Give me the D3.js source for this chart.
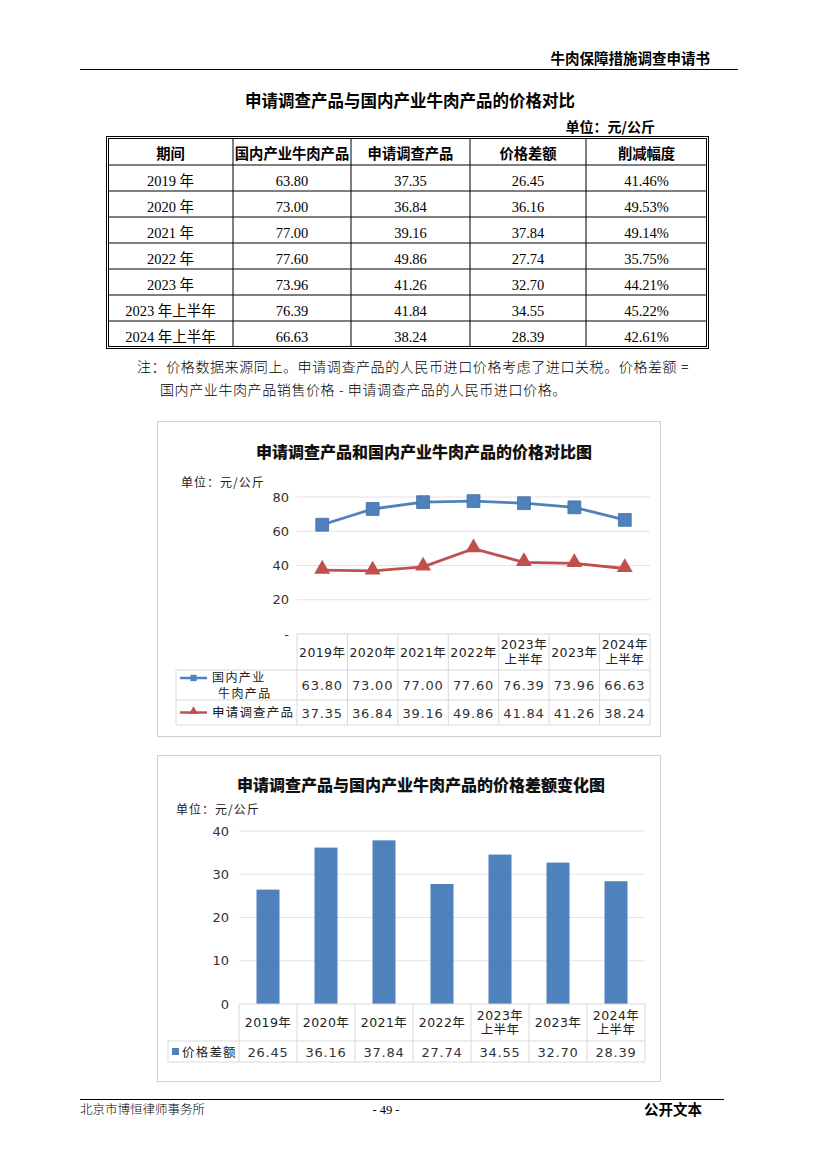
<!DOCTYPE html>
<html>
<head>
<meta charset="utf-8">
<script src="https://cdn.jsdelivr.net/npm/d3@7"></script>
<style>
  body { margin: 0; background: #fff; }
  svg { display: block; }
</style>
</head>
<body>
<svg id="page" width="827" height="1170"></svg>
<script>
// table data
const periods = ["2019 年", "2020 年", "2021 年", "2022 年", "2023 年", "2023 年上半年", "2024 年上半年"];
const domestic = [63.80, 73.00, 77.00, 77.60, 73.96, 76.39, 66.63];
const imported = [37.35, 36.84, 39.16, 49.86, 41.26, 41.84, 38.24];
const gap = [26.45, 36.16, 37.84, 27.74, 32.70, 34.55, 28.39];
const cut = ["41.46%", "49.53%", "49.14%", "35.75%", "44.21%", "45.22%", "42.61%"];
const headers = ["期间", "国内产业牛肉产品", "申请调查产品", "价格差额", "削减幅度"];

// chart data (the charts put 2023上半年 before 2023)
const chartCats = ["2019年", "2020年", "2021年", "2022年", "2023年\n上半年", "2023年", "2024年\n上半年"];
const lineDomestic = [63.80, 73.00, 77.00, 77.60, 76.39, 73.96, 66.63];
const lineImported = [37.35, 36.84, 39.16, 49.86, 41.84, 41.26, 38.24];
const barGap = [26.45, 36.16, 37.84, 27.74, 34.55, 32.70, 28.39];
const lineTicks = [20, 40, 60, 80];
const barTicks = [0, 10, 20, 30, 40];

const CJK = "'Noto Sans CJK SC', sans-serif";
const SERIF = "'Liberation Serif', 'Noto Sans CJK SC', serif";
const XL = "'DejaVu Sans', 'Noto Sans CJK SC', sans-serif";
const blue = "#4f81bd", red = "#c0504d";

const svg = d3.select("#page");

// page header
svg.append("text").attr("x", 710).attr("y", 64).attr("text-anchor", "end")
  .attr("font-family", CJK).attr("font-weight", "bold").attr("font-size", 14.5)
  .text("牛肉保障措施调查申请书");
svg.append("line").attr("x1", 80).attr("x2", 738).attr("y1", 69.5).attr("y2", 69.5)
  .attr("stroke", "#000").attr("stroke-width", 1.2);

svg.append("text").attr("x", 410).attr("y", 107).attr("text-anchor", "middle")
  .attr("font-family", CJK).attr("font-weight", "bold").attr("font-size", 16.5)
  .text("申请调查产品与国内产业牛肉产品的价格对比");
svg.append("text").attr("x", 655).attr("y", 132).attr("text-anchor", "end")
  .attr("font-family", CJK).attr("font-weight", "bold").attr("font-size", 14)
  .text("单位：元/公斤");

// main table
const colEdges = [108, 233, 351, 470, 586, 707];
const rowTop = 138, headH = 27, rowH = 26;
const tbl = svg.append("g");
const rows = periods.map((p, i) => [p, domestic[i].toFixed(2), imported[i].toFixed(2), gap[i].toFixed(2), cut[i]]);
const tblBottom = rowTop + headH + rowH * rows.length;

tbl.selectAll("text.h").data(headers).join("text")
  .attr("x", (d, i) => (colEdges[i] + colEdges[i + 1]) / 2)
  .attr("y", rowTop + headH / 2 + 7)
  .attr("text-anchor", "middle").attr("font-family", CJK).attr("font-weight", "bold").attr("font-size", 14.3)
  .text(d => d);

rows.forEach((r, ri) => {
  tbl.selectAll(null).data(r).join("text")
    .attr("x", (d, i) => (colEdges[i] + colEdges[i + 1]) / 2)
    .attr("y", rowTop + headH + rowH * ri + rowH / 2 + 8)
    .attr("text-anchor", "middle").attr("font-family", SERIF).attr("font-size", 14.5)
    .text(d => d);
});
// inner grid
for (let i = 1; i < colEdges.length - 1; i++) {
  tbl.append("line").attr("x1", colEdges[i]).attr("x2", colEdges[i]).attr("y1", rowTop).attr("y2", tblBottom)
    .attr("stroke", "#000").attr("stroke-width", 1);
}
for (let i = 0; i < rows.length; i++) {
  const y = rowTop + headH + rowH * i;
  tbl.append("line").attr("x1", colEdges[0]).attr("x2", colEdges[5]).attr("y1", y).attr("y2", y)
    .attr("stroke", "#000").attr("stroke-width", 1);
}
// double outer border
tbl.append("rect").attr("x", colEdges[0] - 1.5).attr("y", rowTop - 1.5)
  .attr("width", colEdges[5] - colEdges[0] + 3).attr("height", tblBottom - rowTop + 3)
  .attr("fill", "none").attr("stroke", "#000").attr("stroke-width", 1);
tbl.append("rect").attr("x", colEdges[0] + 0.5).attr("y", rowTop + 0.5)
  .attr("width", colEdges[5] - colEdges[0] - 1).attr("height", tblBottom - rowTop - 1)
  .attr("fill", "none").attr("stroke", "#000").attr("stroke-width", 1);

// note
svg.append("text").attr("x", 137).attr("y", 372).attr("font-family", CJK).attr("font-weight", 300).attr("font-size", 14)
  .attr("letter-spacing", 0.6)
  .text("注：价格数据来源同上。申请调查产品的人民币进口价格考虑了进口关税。价格差额 =");
svg.append("text").attr("x", 160).attr("y", 395).attr("font-family", CJK).attr("font-weight", 300).attr("font-size", 14)
  .attr("letter-spacing", 0.6)
  .text("国内产业牛肉产品销售价格 - 申请调查产品的人民币进口价格。");

// helper for excel-like data tables under the charts
function catRow(g, x, cats, top, h) {
  x.domain().forEach((c, i) => {
    const lines = cats[i].split("\n");
    const cx = x(c) + x.bandwidth() / 2;
    const t = g.append("text").attr("text-anchor", "middle").attr("font-family", XL).attr("font-size", 12.5)
      .attr("letter-spacing", 0.4).attr("fill", "#222");
    lines.forEach((l, k) => {
      t.append("tspan").attr("x", cx)
        .attr("y", top + h / 2 + 4.5 + (k - (lines.length - 1) / 2) * 14.5)
        .text(l);
    });
  });
}

// ---------- chart 1: line chart ----------
const c1 = svg.append("g");
c1.append("rect").attr("x", 157.5).attr("y", 421.5).attr("width", 503).attr("height", 315)
  .attr("fill", "#fff").attr("stroke", "#d0d0d0");
c1.append("text").attr("x", 424).attr("y", 458).attr("text-anchor", "middle")
  .attr("font-family", CJK).attr("font-weight", 900).attr("font-size", 16).attr("fill", "#111")
  .text("申请调查产品和国内产业牛肉产品的价格对比图");
c1.append("text").attr("x", 181).attr("y", 487).attr("font-family", CJK).attr("font-size", 12).attr("fill", "#222")
  .attr("letter-spacing", 1).text("单位：元/公斤");

const x1 = d3.scaleBand().domain(d3.range(chartCats.length)).range([297, 650]);
const y1 = d3.scaleLinear().domain([0, 80]).range([634, 497]);

c1.append("g").selectAll("line").data(lineTicks).join("line")
  .attr("x1", 297).attr("x2", 650).attr("y1", d => y1(d)).attr("y2", d => y1(d))
  .attr("stroke", "#e3e3e3");
c1.append("g").attr("transform", "translate(297,0)")
  .call(d3.axisLeft(y1).tickValues([0].concat(lineTicks)).tickSize(0).tickPadding(8)
    .tickFormat(d => d === 0 ? "-" : d))
  .call(g => g.select(".domain").remove())
  .call(g => g.selectAll("text").attr("font-family", XL).attr("font-size", 13).attr("fill", "#333"));

const lineGen = d3.line().x((d, i) => x1(i) + x1.bandwidth() / 2).y(d => y1(d));
c1.append("path").datum(lineDomestic).attr("d", lineGen).attr("fill", "none").attr("stroke", blue).attr("stroke-width", 2.8);
c1.append("path").datum(lineImported).attr("d", lineGen).attr("fill", "none").attr("stroke", red).attr("stroke-width", 2.8);
c1.append("g").selectAll("path").data(lineDomestic).join("path")
  .attr("d", d3.symbol(d3.symbolSquare, 165))
  .attr("transform", (d, i) => `translate(${x1(i) + x1.bandwidth() / 2},${y1(d)})`)
  .attr("fill", blue).attr("stroke", "#3f6fa8").attr("stroke-width", 0.8);
c1.append("g").selectAll("path").data(lineImported).join("path")
  .attr("d", d3.symbol(d3.symbolTriangle, 110))
  .attr("transform", (d, i) => `translate(${x1(i) + x1.bandwidth() / 2},${y1(d) - 1})`)
  .attr("fill", red);

// data table chart 1
const t1 = c1.append("g");
const t1Top = 634, t1Cat = 36, t1R1 = 30, t1R2 = 25, t1Left = 176;
const t1Bottom = t1Top + t1Cat + t1R1 + t1R2;
const gridC = "#d9d9d9";
x1.domain().concat([chartCats.length]).forEach(i => {
  const xx = i === chartCats.length ? 650 : x1(i);
  t1.append("line").attr("x1", xx).attr("x2", xx).attr("y1", t1Top).attr("y2", t1Bottom).attr("stroke", gridC);
});
[t1Top, t1Top + t1Cat].forEach(y => t1.append("line").attr("x1", y === t1Top ? 297 : t1Left).attr("x2", 650).attr("y1", y).attr("y2", y).attr("stroke", gridC));
[t1Top + t1Cat + t1R1, t1Bottom].forEach(y => t1.append("line").attr("x1", t1Left).attr("x2", 650).attr("y1", y).attr("y2", y).attr("stroke", gridC));
t1.append("line").attr("x1", t1Left).attr("x2", t1Left).attr("y1", t1Top + t1Cat).attr("y2", t1Bottom).attr("stroke", gridC);
catRow(t1, x1, chartCats, t1Top, t1Cat);
[[lineDomestic, t1Top + t1Cat, t1R1], [lineImported, t1Top + t1Cat + t1R1, t1R2]].forEach(([vals, top, h]) => {
  t1.selectAll(null).data(vals).join("text")
    .attr("x", (d, i) => x1(i) + x1.bandwidth() / 2).attr("y", top + h / 2 + 5)
    .attr("text-anchor", "middle").attr("font-family", XL).attr("font-size", 13).attr("fill", "#333")
    .attr("letter-spacing", 0.8)
    .text(d => d.toFixed(2));
});
// legend keys
const ly1 = t1Top + t1Cat + 8, ly2 = t1Top + t1Cat + t1R1 + t1R2 / 2;
t1.append("line").attr("x1", 180).attr("x2", 207).attr("y1", ly1).attr("y2", ly1).attr("stroke", blue).attr("stroke-width", 2.5);
t1.append("path").attr("d", d3.symbol(d3.symbolSquare, 40)).attr("transform", `translate(193.5,${ly1})`).attr("fill", blue);
t1.append("text").attr("x", 212).attr("y", ly1 + 4).attr("font-family", CJK).attr("font-size", 12).attr("fill", "#222")
  .attr("letter-spacing", 1.4).text("国内产业");
t1.append("text").attr("x", 218).attr("y", ly1 + 19.5).attr("font-family", CJK).attr("font-size", 12).attr("fill", "#222")
  .attr("letter-spacing", 1.4).text("牛肉产品");
t1.append("line").attr("x1", 180).attr("x2", 207).attr("y1", ly2).attr("y2", ly2).attr("stroke", red).attr("stroke-width", 2.5);
t1.append("path").attr("d", d3.symbol(d3.symbolTriangle, 35)).attr("transform", `translate(193.5,${ly2 - 1})`).attr("fill", red);
t1.append("text").attr("x", 212).attr("y", ly2 + 4.5).attr("font-family", CJK).attr("font-size", 12.5).attr("fill", "#222")
  .attr("letter-spacing", 1.2).text("申请调查产品");

// ---------- chart 2: bar chart ----------
const c2 = svg.append("g");
c2.append("rect").attr("x", 157.5).attr("y", 755.5).attr("width", 503).attr("height", 326)
  .attr("fill", "#fff").attr("stroke", "#d0d0d0");
c2.append("text").attr("x", 421).attr("y", 791).attr("text-anchor", "middle")
  .attr("font-family", CJK).attr("font-weight", 900).attr("font-size", 16).attr("fill", "#111")
  .text("申请调查产品与国内产业牛肉产品的价格差额变化图");
c2.append("text").attr("x", 176).attr("y", 814).attr("font-family", CJK).attr("font-size", 12).attr("fill", "#222")
  .attr("letter-spacing", 1).text("单位：元/公斤");

const x2 = d3.scaleBand().domain(d3.range(chartCats.length)).range([239, 645]);
const y2 = d3.scaleLinear().domain([0, 40]).range([1004, 831]);

c2.append("g").selectAll("line").data(barTicks.slice(1)).join("line")
  .attr("x1", 239).attr("x2", 645).attr("y1", d => y2(d)).attr("y2", d => y2(d))
  .attr("stroke", "#e3e3e3");
c2.append("g").attr("transform", "translate(239,0)")
  .call(d3.axisLeft(y2).tickValues(barTicks).tickSize(0).tickPadding(10))
  .call(g => g.select(".domain").remove())
  .call(g => g.selectAll("text").attr("font-family", XL).attr("font-size", 13).attr("fill", "#333"));

const barW = 23;
c2.append("g").selectAll("rect").data(barGap).join("rect")
  .attr("x", (d, i) => x2(i) + x2.bandwidth() / 2 - barW / 2)
  .attr("y", d => y2(d)).attr("width", barW).attr("height", d => y2(0) - y2(d))
  .attr("fill", blue);

const t2 = c2.append("g");
const t2Top = 1004, t2Cat = 37, t2R1 = 21, t2Left = 168;
const t2Bottom = t2Top + t2Cat + t2R1;
x2.domain().concat([chartCats.length]).forEach(i => {
  const xx = i === chartCats.length ? 645 : x2(i);
  t2.append("line").attr("x1", xx).attr("x2", xx).attr("y1", t2Top).attr("y2", t2Bottom).attr("stroke", gridC);
});
t2.append("line").attr("x1", 239).attr("x2", 645).attr("y1", t2Top).attr("y2", t2Top).attr("stroke", gridC);
[t2Top + t2Cat, t2Bottom].forEach(y => t2.append("line").attr("x1", t2Left).attr("x2", 645).attr("y1", y).attr("y2", y).attr("stroke", gridC));
t2.append("line").attr("x1", t2Left).attr("x2", t2Left).attr("y1", t2Top + t2Cat).attr("y2", t2Bottom).attr("stroke", gridC);
catRow(t2, x2, chartCats, t2Top, t2Cat);
t2.selectAll(null).data(barGap).join("text")
  .attr("x", (d, i) => x2(i) + x2.bandwidth() / 2).attr("y", t2Top + t2Cat + t2R1 / 2 + 5)
  .attr("text-anchor", "middle").attr("font-family", XL).attr("font-size", 13).attr("fill", "#333")
  .attr("letter-spacing", 0.8)
  .text(d => d.toFixed(2));
t2.append("rect").attr("x", 172).attr("y", t2Top + t2Cat + t2R1 / 2 - 3.5).attr("width", 7).attr("height", 7).attr("fill", blue);
t2.append("text").attr("x", 182).attr("y", t2Top + t2Cat + t2R1 / 2 + 5).attr("font-family", CJK).attr("font-size", 12.5).attr("fill", "#222")
  .attr("letter-spacing", 1.2).text("价格差额");

// footer
svg.append("line").attr("x1", 80).attr("x2", 724).attr("y1", 1099.5).attr("y2", 1099.5).attr("stroke", "#000").attr("stroke-width", 1);
svg.append("text").attr("x", 80).attr("y", 1114).attr("font-family", CJK).attr("font-weight", 300).attr("font-size", 12.5).text("北京市博恒律师事务所");
svg.append("text").attr("x", 386).attr("y", 1114).attr("text-anchor", "middle").attr("font-family", SERIF).attr("font-size", 12.5).text("- 49 -");
svg.append("text").attr("x", 702).attr("y", 1115).attr("text-anchor", "end").attr("font-family", CJK).attr("font-weight", "bold").attr("font-size", 14.5).text("公开文本");
</script>
</body>
</html>
